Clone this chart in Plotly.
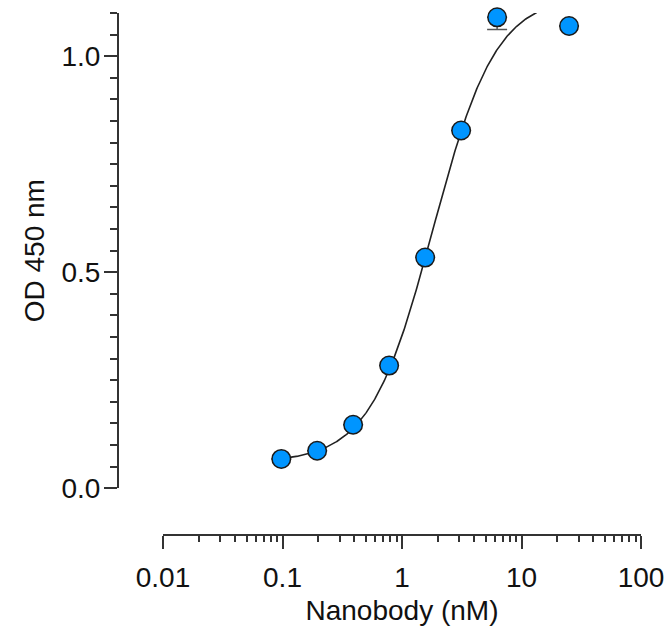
import numpy as np
import plotly.graph_objects as go

# ---- data ----
conc_nM = [0.0977, 0.195, 0.39, 0.78, 1.5625, 3.125, 6.25, 25.0]
od450 = [0.068, 0.087, 0.147, 0.284, 0.534, 0.828, 1.090, 1.070]
od_err_minus = [0, 0, 0, 0, 0, 0, 0.028, 0]
od_err_plus = [0, 0, 0, 0, 0, 0, 0, 0]

# 4-parameter logistic fit (estimated from the drawn curve)
fit_bottom = 0.06
fit_top = 1.14
fit_ec50 = 1.82
fit_hill = 1.65

x_tickvals = [0.01, 0.1, 1, 10, 100]
x_ticktext = ["0.01", "0.1", "1", "10", "100"]
y_tickvals = [0.0, 0.5, 1.0]
y_ticktext = ["0.0", "0.5", "1.0"]

x_minor = [m * 10.0 ** e for e in range(-2, 2) for m in range(2, 10)]
y_minor = [round(0.05 * i, 2) for i in range(0, 23) if i % 10 != 0]

xfit = np.logspace(np.log10(conc_nM[0]), np.log10(conc_nM[-1]), 400)
yfit = fit_bottom + (fit_top - fit_bottom) / (1 + (fit_ec50 / xfit) ** fit_hill)

W, H = 666, 631
axis_col = "#333333"
font_family = "Liberation Sans, Arial, sans-serif"


def px(xv):
    return xv / W


def py(yv):
    return 1 - yv / H


fig = go.Figure()
fig.add_trace(go.Scatter(
    x=xfit, y=yfit, mode="lines",
    line=dict(color="#222222", width=1.6),
    hoverinfo="skip", showlegend=False,
))
fig.add_trace(go.Scatter(
    x=conc_nM, y=od450, mode="markers",
    marker=dict(size=18.5, color="#0095FF", line=dict(color="#1a1a1a", width=1.5)),
    error_y=dict(type="data", symmetric=False, array=od_err_plus,
                 arrayminus=od_err_minus, color="#555555", thickness=1.5, width=10),
    cliponaxis=False, showlegend=False,
))

fig.update_layout(
    width=W, height=H,
    margin=dict(l=0, r=0, t=0, b=0),
    paper_bgcolor="white", plot_bgcolor="white",
    font=dict(family=font_family, size=28, color="#111111"),
    xaxis=dict(
        type="log", range=[-2, 2],
        domain=[px(163), px(641)],
        anchor="free", position=py(535),
        showline=True, linewidth=2, linecolor=axis_col,
        showgrid=False, zeroline=False,
        tickmode="array", tickvals=x_tickvals, ticktext=x_ticktext,
        ticks="outside", ticklen=13, tickwidth=2, tickcolor=axis_col,
        minor=dict(tickmode="array", tickvals=x_minor, ticks="outside",
                   ticklen=6, tickwidth=2, tickcolor=axis_col, showgrid=False),
        tickfont=dict(size=28),
        ticklabelstandoff=4,
        title=dict(text="Nanobody (nM)", font=dict(size=28), standoff=8),
        automargin=False,
    ),
    yaxis=dict(
        range=[0, 1.10],
        domain=[py(488.3), py(13)],
        anchor="free", position=px(118),
        showline=True, linewidth=2, linecolor=axis_col,
        showgrid=False, zeroline=False,
        tickmode="array", tickvals=y_tickvals, ticktext=y_ticktext,
        ticks="outside", ticklen=13, tickwidth=2, tickcolor=axis_col,
        minor=dict(tickmode="array", tickvals=y_minor, ticks="outside",
                   ticklen=7, tickwidth=2, tickcolor=axis_col, showgrid=False),
        tickfont=dict(size=28),
        ticklabelstandoff=-2,
        title=dict(text="OD 450 nm", font=dict(size=28), standoff=8),
        automargin=False,
    ),
)

fig.write_html(
    "out.html",
    config={"displayModeBar": False},
    post_script="document.body.style.margin='0';document.body.style.overflow='hidden';",
)
